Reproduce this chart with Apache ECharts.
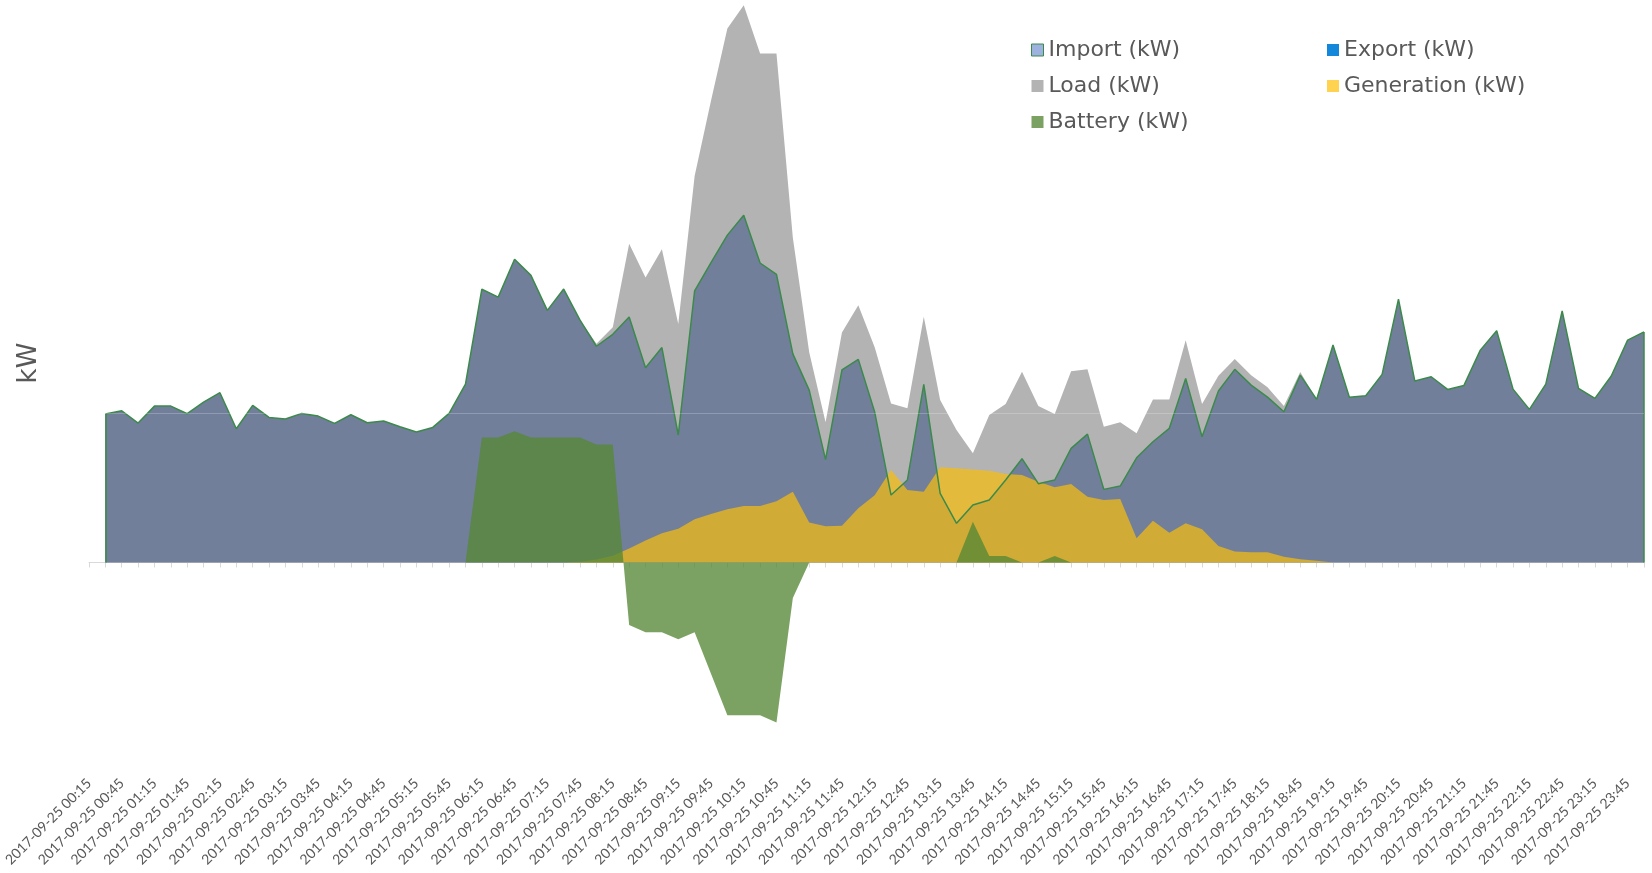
<!DOCTYPE html>
<html>
<head>
<meta charset="utf-8">
<title>kW</title>
<script src="https://cdn.jsdelivr.net/npm/echarts@6/dist/echarts.min.js"></script>
<style>
  html, body { margin: 0; padding: 0; background: #fff; }
  #chart { width: 1652px; height: 873px; }
</style>
</head>
<body>
<div id="chart"></div>
<script>
// 15 minute slots, 2017-09-25 00:15 .. 2017-09-26 00:00
var times = []
for (var i = 0; i < 96; i++) {
  var m = 15 * (i + 1)
  var day = 25 + Math.floor(m / 1440)
  var hh = Math.floor((m % 1440) / 60)
  var mm = m % 60
  times.push('2017-09-' + day + ' ' + (hh < 10 ? '0' : '') + hh + ':' + (mm < 10 ? '0' : '') + mm)
}

// values (kW), first slot is empty
var importKw = [null,
  9.97, 10.19, 9.36, 10.50, 10.50, 9.99, 10.77, 11.40, 8.98, 10.55,
  9.74, 9.63, 10.01, 9.83, 9.34, 9.92, 9.38, 9.50, 9.11, 8.76,
  9.07, 10.01, 11.98, 18.35, 17.82, 20.36, 19.28, 16.93, 18.36, 16.27,
  14.52, 15.32, 16.49, 13.07, 14.43, 8.56, 18.24, 20.14, 21.98, 23.31,
  20.11, 19.35, 14.01, 11.57, 6.91, 12.94, 13.64, 10.10, 4.53, 5.54,
  11.96, 4.64, 2.63, 3.86, 4.19, 5.54, 6.97, 5.29, 5.54, 7.66,
  8.62, 4.91, 5.13, 7.03, 8.11, 9.01, 12.36, 8.44, 11.51, 12.97,
  11.91, 11.10, 10.12, 12.58, 10.95, 14.60, 11.09, 11.20, 12.63, 17.68,
  12.18, 12.47, 11.62, 11.89, 14.26, 15.56, 11.64, 10.28, 11.98, 16.90,
  11.69, 11.02, 12.52, 14.93, 15.48]

var exportKw = [null,
  0, 0, 0, 0, 0, 0, 0, 0, 0, 0, 0, 0, 0, 0, 0, 0, 0, 0, 0, 0,
  0, 0, 0, 0, 0, 0, 0, 0, 0, 0, 0, 0, 0, 0, 0, 0, 0, 0, 0, 0,
  0, 0, 0, 0, 0, 0, 0, 0, 0, 0, 0, 0, 0, 0, 0, 0, 0, 0, 0, 0,
  0, 0, 0, 0, 0, 0, 0, 0, 0, 0, 0, 0, 0, 0, 0, 0, 0, 0, 0, 0,
  0, 0, 0, 0, 0, 0, 0, 0, 0, 0, 0, 0, 0, 0, 0]

var loadKw = [null,
  9.97, 10.19, 9.36, 10.50, 10.50, 9.99, 10.77, 11.40, 8.98, 10.55,
  9.74, 9.63, 10.01, 9.83, 9.34, 9.92, 9.38, 9.50, 9.11, 8.76,
  9.07, 10.01, 11.98, 18.35, 17.82, 20.36, 19.28, 16.93, 18.36, 16.27,
  14.68, 15.79, 21.41, 19.13, 21.03, 16.01, 25.95, 31.00, 35.85, 37.42,
  34.17, 34.17, 21.80, 14.11, 9.42, 15.44, 17.28, 14.45, 10.68, 10.35,
  16.50, 10.91, 8.89, 7.33, 9.90, 10.64, 12.81, 10.50, 9.97, 12.84,
  12.97, 9.11, 9.41, 8.67, 10.95, 10.95, 14.93, 10.64, 12.54, 13.66,
  12.58, 11.76, 10.50, 12.79, 10.95, 14.60, 11.09, 11.20, 12.63, 17.68,
  12.18, 12.47, 11.62, 11.89, 14.26, 15.56, 11.64, 10.28, 11.98, 16.90,
  11.69, 11.02, 12.52, 14.93, 15.48]

var generationKw = [null,
  0, 0, 0, 0, 0, 0, 0, 0, 0, 0,
  0, 0, 0, 0, 0, 0, 0, 0, 0, 0,
  0, 0, 0, 0, 0, 0, 0, 0, 0, 0.05,
  0.20, 0.46, 0.94, 1.48, 1.96, 2.27, 2.91, 3.26, 3.58, 3.80,
  3.80, 4.11, 4.75, 2.69, 2.44, 2.47, 3.64, 4.52, 6.21, 4.87,
  4.75, 6.39, 6.32, 6.25, 6.16, 5.94, 5.87, 5.42, 5.05, 5.27,
  4.42, 4.19, 4.26, 1.62, 2.81, 2.00, 2.63, 2.23, 1.11, 0.73,
  0.68, 0.68, 0.39, 0.21, 0.12, 0, 0, 0, 0, 0,
  0, 0, 0, 0, 0, 0, 0, 0, 0, 0,
  0, 0, 0, 0, 0]

var batteryKw = [null,
  0, 0, 0, 0, 0, 0, 0, 0, 0, 0,
  0, 0, 0, 0, 0, 0, 0, 0, 0, 0,
  0, 0, 0, 8.40, 8.40, 8.81, 8.40, 8.40, 8.40, 8.40,
  7.92, 7.92, -4.20, -4.68, -4.68, -5.15, -4.68, -7.47, -10.26, -10.26,
  -10.26, -10.74, -2.39, 0, 0, 0, 0, 0, 0, 0,
  0, 0, 0, 2.74, 0.44, 0.44, 0, 0, 0.44, 0,
  0, 0, 0, 0, 0, 0, 0, 0, 0, 0,
  0, 0, 0, 0, 0, 0, 0, 0, 0, 0,
  0, 0, 0, 0, 0, 0, 0, 0, 0, 0,
  0, 0, 0, 0, 0]

var gridLineKw = 10
var labelFont = 'Lato, "Open Sans", sans-serif'
var legendFont = '"DejaVu Sans", sans-serif'
var textGrey = '#595959'
var lineGreen = '#3C8A4B'

var chart = echarts.init(document.getElementById('chart'))

var option = {
  animation: false,
  grid: { left: 89, right: 8, top: 4, bottom: 102, outerBoundsMode: 'none' },
  legend: [
    {
      orient: 'vertical',
      left: 1026,
      top: 34,
      itemWidth: 12,
      itemHeight: 12,
      itemGap: 14,
      icon: 'rect',
      textStyle: { fontFamily: legendFont, fontSize: 22, lineHeight: 22, color: textGrey },
      data: [
        { name: 'Import (kW)', itemStyle: { color: '#9DB2DF', borderColor: lineGreen, borderWidth: 1 } },
        { name: 'Load (kW)', itemStyle: { color: '#B3B3B3', borderWidth: 0 } },
        { name: 'Battery (kW)', itemStyle: { color: '#7BA262', borderWidth: 0 } }
      ]
    },
    {
      orient: 'vertical',
      left: 1322,
      top: 34,
      itemWidth: 12,
      itemHeight: 12,
      itemGap: 14,
      icon: 'rect',
      textStyle: { fontFamily: legendFont, fontSize: 22, lineHeight: 22, color: textGrey },
      data: [
        { name: 'Export (kW)', itemStyle: { color: '#1387DA', borderWidth: 0 } },
        { name: 'Generation (kW)', itemStyle: { color: '#FFD24F', borderWidth: 0 } }
      ]
    }
  ],
  graphic: [
    {
      type: 'text',
      x: 29,
      y: 363,
      rotation: Math.PI / 2,
      style: {
        text: 'kW',
        fontFamily: legendFont,
        fontSize: 26,
        fill: textGrey,
        textAlign: 'center',
        textVerticalAlign: 'middle'
      }
    }
  ],
  xAxis: [
    {
      // labels at the bottom of the plot
      type: 'category',
      data: times,
      boundaryGap: false,
      position: 'bottom',
      axisLine: { show: false, onZero: false },
      axisTick: { show: false },
      splitLine: { show: false },
      axisLabel: {
        interval: 1,
        rotate: 45,
        margin: 10,
        fontFamily: labelFont,
        fontSize: 14,
        color: textGrey
      }
    },
    {
      // axis line + ticks sitting on zero
      type: 'category',
      data: times,
      boundaryGap: false,
      position: 'top',
      axisLine: { show: true, onZero: true, lineStyle: { color: '#D9D9D9', width: 1 } },
      axisTick: { show: true, inside: true, interval: 0, length: 5, lineStyle: { color: '#D9D9D9' } },
      axisLabel: { show: false },
      splitLine: { show: false }
    }
  ],
  yAxis: {
    type: 'value',
    min: -14,
    max: 37.5,
    axisLine: { show: false },
    axisTick: { show: false },
    axisLabel: { show: false },
    splitLine: { show: false }
  },
  series: [
    {
      name: 'Load (kW)',
      type: 'line',
      data: loadKw,
      symbol: 'none',
      itemStyle: { color: '#B3B3B3' },
      lineStyle: { width: 0 },
      areaStyle: { color: '#B3B3B3', opacity: 1 }
    },
    {
      name: 'Import (kW)',
      type: 'line',
      data: importKw,
      symbol: 'none',
      itemStyle: { color: '#9DB2DF' },
      lineStyle: { color: lineGreen, width: 1.5 },
      areaStyle: { color: '#717F9B', opacity: 1 },
      markLine: {
        silent: true,
        symbol: 'none',
        label: { show: false },
        lineStyle: { color: lineGreen, width: 1.5, type: 'solid' },
        data: [
          [{ coord: [times[1], 0] }, { coord: [times[1], importKw[1]] }],
          [{ coord: [times[95], 0] }, { coord: [times[95], importKw[95]] }]
        ]
      }
    },
    {
      name: 'Export (kW)',
      type: 'line',
      data: exportKw,
      symbol: 'none',
      itemStyle: { color: '#1387DA' },
      lineStyle: { width: 0 },
      areaStyle: { color: '#1387DA', opacity: 1 }
    },
    {
      name: 'Generation (kW)',
      type: 'line',
      data: generationKw,
      symbol: 'none',
      itemStyle: { color: '#FFD24F' },
      lineStyle: { width: 0 },
      areaStyle: { color: 'rgba(250, 190, 10, 0.7)', opacity: 1 }
    },
    {
      name: 'Battery (kW)',
      type: 'line',
      data: batteryKw,
      symbol: 'none',
      itemStyle: { color: '#7BA262' },
      lineStyle: { width: 0 },
      areaStyle: { color: 'rgba(86, 136, 54, 0.78)', opacity: 1 },
      markLine: {
        silent: true,
        symbol: 'none',
        label: { show: false },
        lineStyle: { color: 'rgba(255, 255, 255, 0.22)', width: 1, type: 'solid' },
        data: [{ yAxis: gridLineKw }]
      }
    }
  ]
}

chart.setOption(option)
</script>
</body>
</html>
